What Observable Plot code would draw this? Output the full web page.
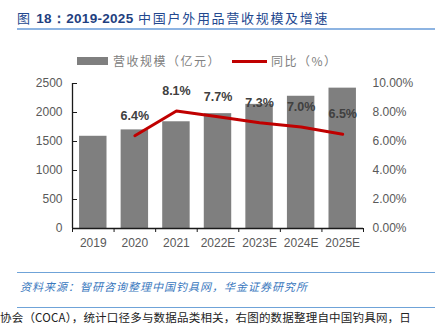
<!DOCTYPE html>
<html><head><meta charset="utf-8">
<script src="https://cdn.jsdelivr.net/npm/d3@7"></script>
<script src="https://cdn.jsdelivr.net/npm/@observablehq/plot@0.6"></script>
<style>
html,body{margin:0;padding:0;background:#fff;overflow:hidden;}
body{width:435px;height:325px;position:relative;font-family:"Liberation Sans","Noto Sans CJK SC",sans-serif;}
#title{position:absolute;left:17px;top:0;width:418px;height:28px;border-bottom:2px solid #8DB4E2;}
#title span{position:absolute;top:8px;font-size:13.5px;color:#23488F;white-space:nowrap;letter-spacing:0.3px;}
#title b{font-family:"Liberation Sans",sans-serif;font-weight:bold;color:#1F3F80;}
#title .cn{letter-spacing:1.7px;font-family:"Noto Sans CJK SC",sans-serif;font-size:13px;}
#legend{position:absolute;left:0;top:52px;width:435px;height:18px;font-size:12px;color:#808080;font-family:"Noto Sans CJK SC",sans-serif;}
.sw{position:absolute;}
#chart{position:absolute;left:0;top:70px;}
.rule{position:absolute;left:17px;width:418px;height:0;border-top:1.5px solid #6FA3D8;}
#source{position:absolute;left:20px;top:278px;font-size:11px;font-style:italic;color:#3A78BE;letter-spacing:1px;font-family:"Noto Sans CJK SC",sans-serif;white-space:nowrap;}
#next{position:absolute;left:0px;top:311px;font-size:11.5px;line-height:13px;color:#222;letter-spacing:0.2px;font-family:"Noto Sans CJK SC",sans-serif;white-space:nowrap;}
</style></head>
<body>
<div id="title"><span><span class="cn" style="position:static">图 </span><b>18：2019-2025</b><span class="cn" style="position:static"> 中国户外用品营收规模及增速</span></span></div>
<div id="legend">
  <div class="sw" style="left:77px;top:5px;width:31px;height:8px;background:#7F7F7F;"></div>
  <div class="sw" style="left:113px;top:0px;letter-spacing:1.5px;">营收规模（亿元）</div>
  <div class="sw" style="left:232px;top:7.5px;width:35px;height:3px;background:#C00000;"></div>
  <div class="sw" style="left:271px;top:0px;letter-spacing:1.5px;">同比（%）</div>
</div>
<div id="chart"></div>
<div class="rule" style="top:272px"></div>
<div id="source">资料来源：智研咨询整理中国钓具网，华金证券研究所</div>
<div class="rule" style="top:307px"></div>
<div id="next">协会（COCA），统计口径多与数据品类相关，右图的数据整理自中国钓具网，日</div>
<script>
const years = ["2019","2020","2021","2022E","2023E","2024E","2025E"];
const revenue = [1590, 1700, 1840, 1980, 2140, 2280, 2420];
const growth = [null, 6.4, 8.1, 7.7, 7.3, 7.0, 6.5];
const leftTicks = [0, 500, 1000, 1500, 2000, 2500];
const rightTickLabels = ["0.00%","2.00%","4.00%","6.00%","8.00%","10.00%"];

const data = years.map((y, i) => ({i, year: y, rev: revenue[i], g: growth[i]}));
const lineData = data.filter(d => d.g != null);
const scaleG = 2500 / 10; // right axis: 10% at top
const boundaries = d3.range(-0.5, years.length, 1);

const plot = Plot.plot({
  width: 435,
  height: 180,
  marginTop: 13,
  marginBottom: 22,
  marginLeft: 72,
  marginRight: 72,
  style: {fontFamily: "Liberation Sans, Arial, sans-serif", fontSize: "12px", color: "#595959", background: "transparent"},
  x: {type: "linear", domain: [-0.5, years.length - 0.5]},
  y: {domain: [0, 2500]},
  marks: [
    Plot.rectY(data, {x1: d => d.i - 0.33, x2: d => d.i + 0.33, y: "rev", fill: "#7F7F7F"}),
    Plot.ruleY([0], {stroke: "#1a1a1a", strokeWidth: 1.3}),
    Plot.ruleX([-0.5], {y1: 0, y2: 2500, stroke: "#1a1a1a", strokeWidth: 1.3}),
    Plot.axisY({anchor: "left", ticks: leftTicks, tickSize: -5, tickPadding: 15, tickFormat: d3.format("d"), stroke: "#1a1a1a", fill: "#595959", label: null, fontSize: 12}),
    Plot.axisY({anchor: "right", ticks: leftTicks, tickSize: 0, tickPadding: 9, tickFormat: v => rightTickLabels[leftTicks.indexOf(v)], fill: "#595959", label: null, fontSize: 12}),
    Plot.axisX({ticks: boundaries, tickSize: 4, tickFormat: () => "", stroke: "#1a1a1a", label: null}),
    Plot.axisX({ticks: d3.range(years.length), tickSize: 0, tickPadding: 10, tickFormat: i => years[i], fill: "#595959", label: null, fontSize: 12}),
    Plot.line(lineData, {x: "i", y: d => d.g * scaleG, stroke: "#C00000", strokeWidth: 3}),
    Plot.text(lineData, {x: "i", y: d => d.g * scaleG, dy: -20, text: d => d.g.toFixed(1) + "%", fontWeight: "bold", fill: "#404040", fontSize: 12.5})
  ]
});
document.getElementById("chart").appendChild(plot);
</script>
</body></html>
